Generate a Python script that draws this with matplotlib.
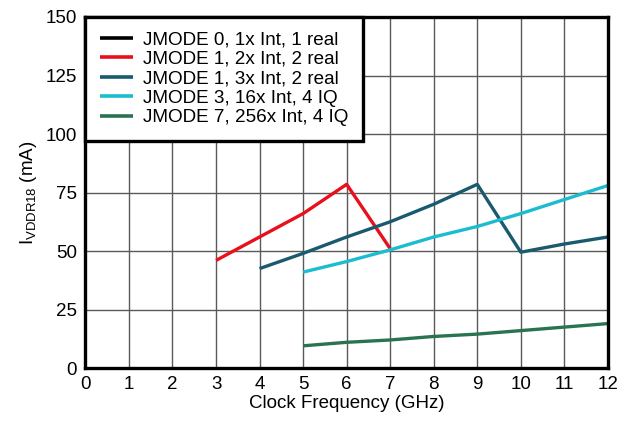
import matplotlib
matplotlib.use("Agg")
import matplotlib.pyplot as plt

plt.rcParams['font.family'] = ['Liberation Sans', 'DejaVu Sans']
plt.rcParams['mathtext.fontset'] = 'custom'
plt.rcParams['mathtext.rm'] = 'Liberation Sans'

labels = ["JMODE 0, 1x Int, 1 real", "JMODE 1, 2x Int, 2 real",
          "JMODE 1, 3x Int, 2 real", "JMODE 3, 16x Int, 4 IQ",
          "JMODE 7, 256x Int, 4 IQ"]
colors = ["#000000", "#e8101a", "#1a5a6e", "#1bbcd0", "#2a7350"]

x_j0 = []
y_j0 = []
x_j1a = [3, 4, 5, 6, 7]
y_j1a = [46, 56, 66, 78.5, 51]
x_j1b = [4, 5, 6, 7, 8, 9, 10, 11, 12]
y_j1b = [42.5, 49, 56, 62.5, 70, 78.5, 49.5, 53, 56]
x_j3 = [5, 6, 7, 8, 9, 10, 11, 12]
y_j3 = [41, 45.5, 50.5, 56, 60.5, 66, 72, 78]
x_j7 = [5, 6, 7, 8, 9, 10, 11, 12]
y_j7 = [9.5, 11, 12, 13.5, 14.5, 16, 17.5, 19]

xticks = list(range(0, 13))
yticks = [0, 25, 50, 75, 100, 125, 150]

fig = plt.figure(figsize=(6.28, 4.25), dpi=100)
ax = fig.add_axes([0.136, 0.134, 0.832, 0.826])

series = [(x_j0, y_j0), (x_j1a, y_j1a), (x_j1b, y_j1b), (x_j3, y_j3), (x_j7, y_j7)]
for (xs, ys), lab, c in zip(series, labels, colors):
    ax.plot(xs, ys, color=c, lw=2.4, label=lab, solid_capstyle='butt')

ax.set_xlim(0, 12)
ax.set_ylim(0, 150)
ax.set_xticks(xticks)
ax.set_yticks(yticks)
ax.grid(True, color='#5a5a5a', lw=1)
ax.set_axisbelow(True)
for s in ax.spines.values():
    s.set_linewidth(2.4)
ax.tick_params(length=0, labelsize=13.5, pad=6)
ax.set_xlabel("Clock Frequency (GHz)", fontsize=13.5, labelpad=1)
ax.set_ylabel(r"I$_{\mathrm{VDDR18}}$ (mA)", fontsize=13.5, labelpad=5)

leg = ax.legend(loc='upper left', fontsize=13.6, fancybox=False, framealpha=1,
                edgecolor='black', borderaxespad=0, handlelength=1.75,
                labelspacing=0.12, borderpad=0.75, handletextpad=0.55)
leg.get_frame().set_linewidth(2.4)
for line in leg.get_lines():
    line.set_linewidth(2.6)

fig.savefig("out.png", dpi=100)
